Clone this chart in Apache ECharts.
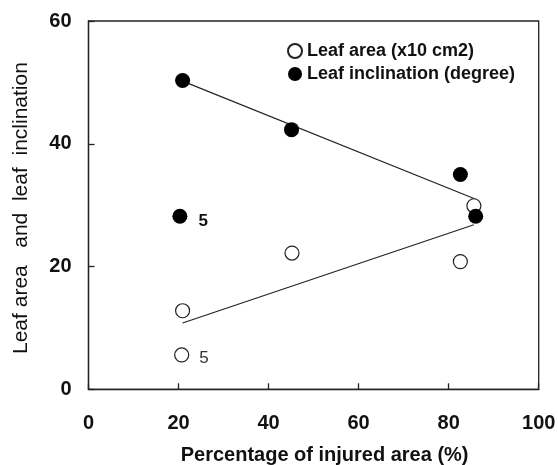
<!DOCTYPE html>
<html><head><meta charset="utf-8">
<script src="https://cdn.jsdelivr.net/npm/echarts@6/dist/echarts.min.js"></script>
<style>html,body{margin:0;padding:0;background:#fff}#c{width:558px;height:465px}</style>
</head><body><div id="c"></div>
<script>
const areaX = [20.9, 20.7, 45.2, 82.6, 85.6];
const areaY = [12.8, 5.6, 22.2, 20.8, 29.9];
const inclX = [20.9, 20.3, 45.1, 82.6, 86.0];
const inclY = [50.3, 28.2, 42.3, 35.0, 28.2];
const areaTrendX = [20.9, 85.6];
const areaTrendY = [10.8, 26.8];
const inclTrendX = [20.9, 85.9];
const inclTrendY = [50.2, 31.0];
const xTicks = [0, 20, 40, 60, 80, 100];
const yTicks = [0, 20, 40, 60];
const sampleLabelIndex = 1;
const sampleLabel = '5';

const zip = (a, b) => a.map((v, i) => [v, b[i]]);
const tickFont = {fontFamily: 'Liberation Sans, Arial', fontWeight: 'bold', fontSize: 20, color: '#111'};

const chart = echarts.init(document.getElementById('c'), null, {renderer: 'canvas'});
chart.setOption({
  animation: false,
  backgroundColor: '#fff',
  grid: {left: 88.5, top: 21, right: 19.3, bottom: 75.7, outerBoundsMode: 'none', containLabel: false, show: true, borderColor: '#222', borderWidth: 1.3, backgroundColor: 'transparent'},
  legend: {
    orient: 'vertical', left: 282, top: 37, itemGap: 5, itemWidth: 14, itemHeight: 14,
    data: ['Leaf area (x10 cm2)', 'Leaf inclination (degree)'],
    textStyle: {fontFamily: 'Liberation Sans, Arial', fontWeight: 'bold', fontSize: 18, color: '#111'}
  },
  xAxis: {
    type: 'value', min: 0, max: 100, interval: 20,
    name: 'Percentage of injured area (%)', nameLocation: 'middle', nameGap: 56,
    nameTextStyle: {fontFamily: 'Liberation Sans, Arial', fontWeight: 'bold', fontSize: 20, color: '#111', padding: [0,0,0,22]},
    axisLine: {lineStyle: {color: '#222', width: 1.3}},
    axisTick: {inside: true, length: 6, lineStyle: {color: '#222', width: 1.3}},
    axisLabel: Object.assign({margin: 24, formatter: v => xTicks.includes(v) ? String(v) : ''}, tickFont),
    splitLine: {show: false}
  },
  yAxis: {
    type: 'value', min: 0, max: 60, interval: 20,
    name: 'Leaf area   and  leaf  inclination ', nameLocation: 'middle', nameGap: 57,
    nameTextStyle: {fontFamily: 'Liberation Sans, Arial', fontSize: 21, color: '#111'},
    axisLine: {lineStyle: {color: '#222', width: 1.3}},
    axisTick: {inside: true, length: 6, lineStyle: {color: '#222', width: 1.3}},
    axisLabel: Object.assign({margin: 17, verticalAlign: 'middle', formatter: v => yTicks.includes(v) ? String(v) : ''}, tickFont),
    splitLine: {show: false}
  },
  series: [
    {type: 'line', data: zip(inclTrendX, inclTrendY), symbol: 'none', lineStyle: {color: '#222', width: 1.2}, silent: true, z: 1},
    {type: 'line', data: zip(areaTrendX, areaTrendY), symbol: 'none', lineStyle: {color: '#222', width: 1.2}, silent: true, z: 1},
    {
      name: 'Leaf area (x10 cm2)', type: 'scatter', symbol: 'circle', symbolSize: 14, z: 3,
      itemStyle: {color: '#fff', borderColor: '#222', borderWidth: 1.2, opacity: 1},
      data: zip(areaX, areaY).map((p, i) => i === sampleLabelIndex ? {value: p, label: {show: true, position: 'right', distance: 10, offset: [0, 3], formatter: sampleLabel, fontFamily: 'Liberation Sans, Arial', fontSize: 17, color: '#333'}} : p)
    },
    {
      name: 'Leaf inclination (degree)', type: 'scatter', symbol: 'circle', symbolSize: 15, z: 4,
      itemStyle: {color: '#000', opacity: 1},
      data: zip(inclX, inclY).map((p, i) => i === sampleLabelIndex ? {value: p, label: {show: true, position: 'right', distance: 11, offset: [0, 5], formatter: sampleLabel, fontFamily: 'Liberation Sans, Arial', fontWeight: 'bold', fontSize: 17, color: '#111'}} : p)
    }
  ]
});
</script></body></html>
